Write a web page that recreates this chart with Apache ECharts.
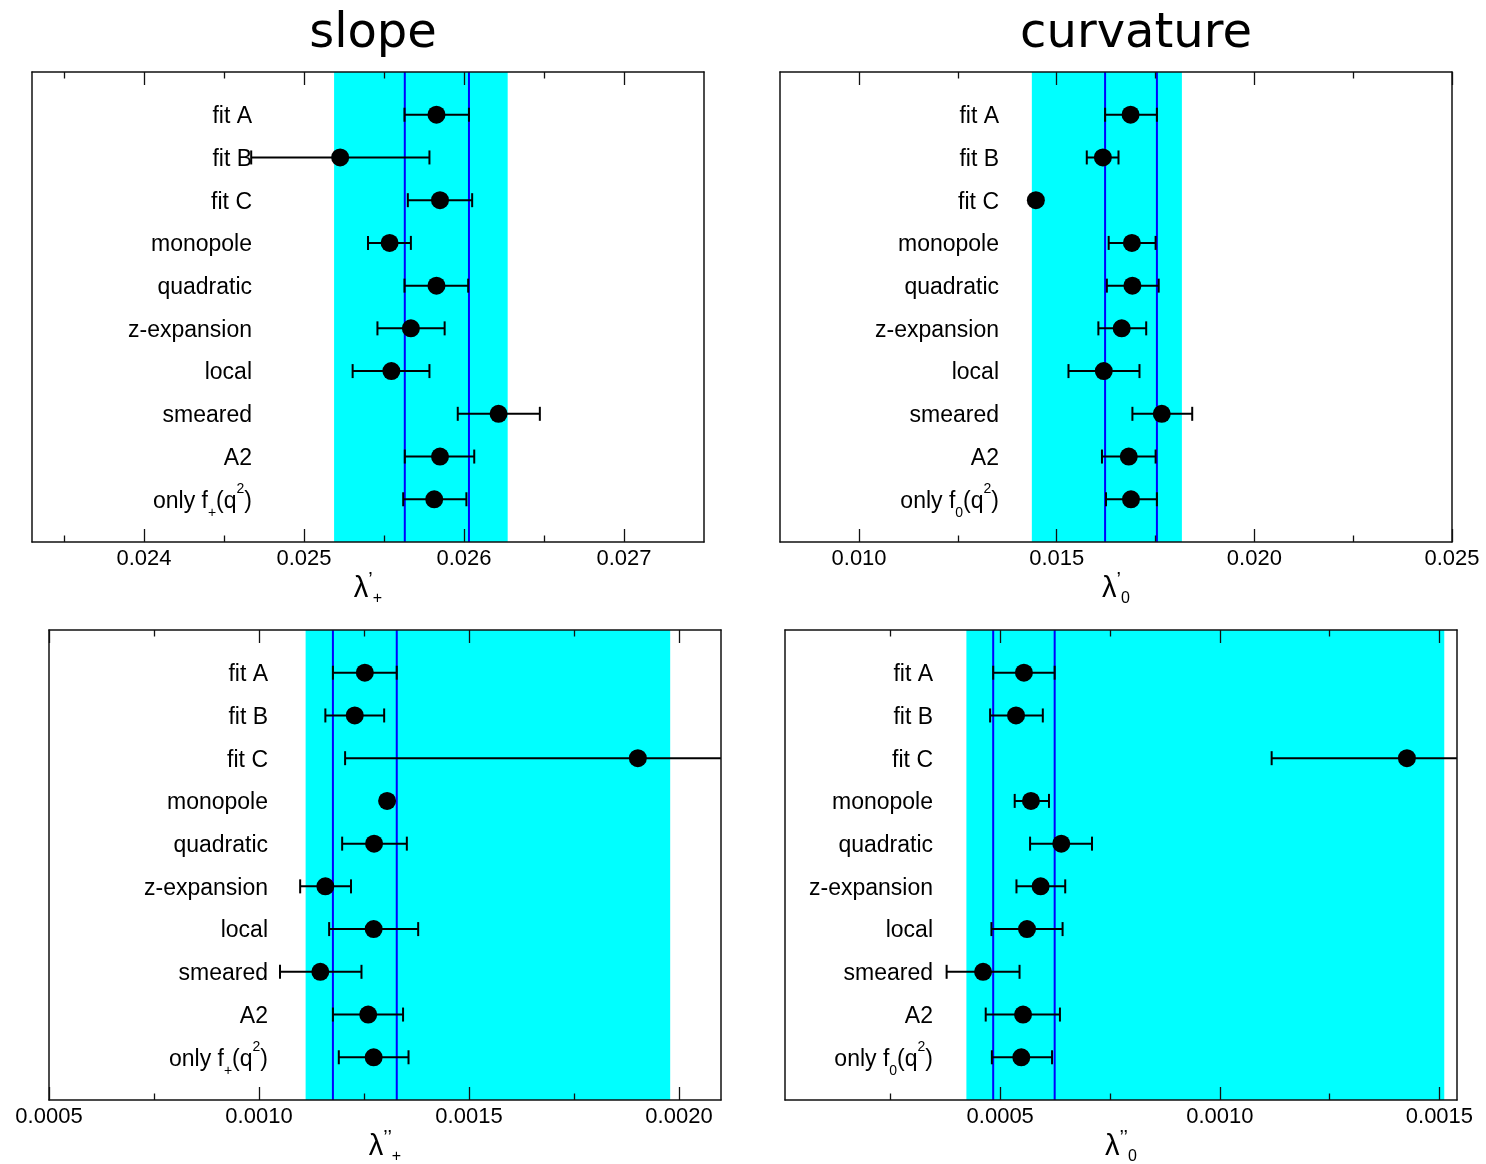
<!DOCTYPE html>
<html>
<head>
<meta charset="utf-8">
<script src="https://cdn.jsdelivr.net/npm/echarts@6/dist/echarts.min.js"></script>
<style>
  html, body { margin: 0; padding: 0; background: #fff; }
  #chart { width: 1486px; height: 1164px; }
</style>
</head>
<body>
<div id="chart"></div>
<script>
// Row names, top to bottom (the last row differs between the f+ and f0 panels)
const rowNames = ['fit A', 'fit B', 'fit C', 'monopole', 'quadratic', 'z-expansion', 'local', 'smeared', 'A2'];
const lastRowPlus = 'only f{sub|+}(q{sup|2})';
const lastRowZero = 'only f{sub|0}(q{sup|2})';

// slope of f+ : λ'_+
const slopePlusValue = [0.025828, 0.025226, 0.02585, 0.025535, 0.025828, 0.025668, 0.025546, 0.026216, 0.02585, 0.025814];
const slopePlusLow   = [0.025628, 0.02467, 0.025649, 0.0254, 0.025628, 0.025459, 0.025304, 0.025961, 0.02563, 0.02562];
const slopePlusHigh  = [0.026031, 0.025784, 0.026051, 0.025668, 0.026026, 0.025879, 0.025784, 0.026474, 0.026064, 0.026015];
const slopePlusBand  = [0.025188, 0.026273];
const slopePlusLines = [0.02563, 0.026031];
const slopePlusRange = [0.0233, 0.0275];
const slopePlusTicks = [0.024, 0.025, 0.026, 0.027];
const slopePlusMinor = [0.0235, 0.0245, 0.0255, 0.0265];

// slope of f0 : λ'_0
const slopeZeroValue = [0.016869, 0.016168, 0.014473, 0.016902, 0.016915, 0.016644, 0.016191, 0.017658, 0.016823, 0.016879];
const slopeZeroLow   = [0.016224, 0.015761, null, 0.016315, 0.016269, 0.016054, 0.015298, 0.016915, 0.016145, 0.016247];
const slopeZeroHigh  = [0.017535, 0.016563, null, 0.017502, 0.01758, 0.017264, 0.017094, 0.018428, 0.017502, 0.017535];
const slopeZeroBand  = [0.014371, 0.018167];
const slopeZeroLines = [0.016224, 0.017535];
const slopeZeroRange = [0.008, 0.025];
const slopeZeroTicks = [0.010, 0.015, 0.020, 0.025];
const slopeZeroMinor = [0.0125, 0.0175, 0.0225];

// curvature of f+ : λ''_+
const curvPlusValue = [0.001252, 0.001228, 0.001902, 0.001305, 0.001274, 0.001158, 0.001273, 0.001146, 0.00126, 0.001273];
const curvPlusLow   = [0.001176, 0.001158, 0.001205, null, 0.001198, 0.001098, 0.001167, 0.00105, 0.001176, 0.00119];
const curvPlusHigh  = [0.001328, 0.001298, 0.0026, null, 0.001352, 0.001219, 0.001379, 0.001244, 0.001343, 0.001356];
const curvPlusBand  = [0.001111, 0.001979];
const curvPlusLines = [0.001176, 0.001328];
const curvPlusRange = [0.0005, 0.0021];
const curvPlusTicks = [0.0005, 0.0010, 0.0015, 0.0020];
const curvPlusMinor = [0.00075, 0.00125, 0.00175];

// curvature of f0 : λ''_0
const curvZeroValue = [0.000554, 0.000536, 0.001426, 0.00057, 0.000639, 0.000592, 0.000561, 0.000461, 0.000552, 0.000548];
const curvZeroLow   = [0.000484, 0.000477, 0.001118, 0.000533, 0.000568, 0.000537, 0.00048, 0.000378, 0.000467, 0.000481];
const curvZeroHigh  = [0.000624, 0.000597, 0.001734, 0.000611, 0.000709, 0.000648, 0.000642, 0.000544, 0.000636, 0.000618];
const curvZeroBand  = [0.000423, 0.001511];
const curvZeroLines = [0.000484, 0.000624];
const curvZeroRange = [0.00001, 0.00154];
const curvZeroTicks = [0.0005, 0.0010, 0.0015];
const curvZeroMinor = [0.00025, 0.00075, 0.00125];

const FONT = 'Liberation Sans, Arial, Helvetica, sans-serif';
const ROWS = 10;

const panels = [
  { box: { left: 32, top: 72 }, labelInset: 220, digits: 3,
    names: rowNames.concat([lastRowPlus]), axisName: '{l|λ}{p|’}{s|+}',
    value: slopePlusValue, low: slopePlusLow, high: slopePlusHigh,
    band: slopePlusBand, lines: slopePlusLines, range: slopePlusRange,
    ticks: slopePlusTicks, minor: slopePlusMinor },
  { box: { left: 780, top: 72 }, labelInset: 219, digits: 3,
    names: rowNames.concat([lastRowZero]), axisName: '{l|λ}{p|’}{s|0}',
    value: slopeZeroValue, low: slopeZeroLow, high: slopeZeroHigh,
    band: slopeZeroBand, lines: slopeZeroLines, range: slopeZeroRange,
    ticks: slopeZeroTicks, minor: slopeZeroMinor },
  { box: { left: 49, top: 630 }, labelInset: 219, digits: 4,
    names: rowNames.concat([lastRowPlus]), axisName: '{l|λ}{p|’’}{s|+}',
    value: curvPlusValue, low: curvPlusLow, high: curvPlusHigh,
    band: curvPlusBand, lines: curvPlusLines, range: curvPlusRange,
    ticks: curvPlusTicks, minor: curvPlusMinor },
  { box: { left: 785, top: 630 }, labelInset: 148, digits: 4,
    names: rowNames.concat([lastRowZero]), axisName: '{l|λ}{p|’’}{s|0}',
    value: curvZeroValue, low: curvZeroLow, high: curvZeroHigh,
    band: curvZeroBand, lines: curvZeroLines, range: curvZeroRange,
    ticks: curvZeroTicks, minor: curvZeroMinor }
];

// Shaded band across the full height of the frame
function bandItem(params, api) {
  const a = api.coord([api.value(0), 0]);
  const b = api.coord([api.value(1), ROWS + 1]);
  return {
    type: 'rect',
    shape: { x: a[0], y: Math.min(a[1], b[1]), width: b[0] - a[0], height: Math.abs(b[1] - a[1]) },
    style: { fill: '#00ffff' }
  };
}

// Full-height vertical reference line
function lineItem(params, api) {
  const a = api.coord([api.value(0), 0]);
  const b = api.coord([api.value(0), ROWS + 1]);
  return {
    type: 'line',
    shape: { x1: a[0], y1: a[1], x2: b[0], y2: b[1] },
    style: { stroke: '#0000ff', lineWidth: 2 }
  };
}

// Horizontal error bar with end caps
function errorItem(params, api) {
  const row = api.value(0);
  const a = api.coord([api.value(1), row]);
  const b = api.coord([api.value(2), row]);
  const h = 7;
  const st = { stroke: '#000', lineWidth: 2 };
  return {
    type: 'group',
    children: [
      { type: 'line', shape: { x1: a[0], y1: a[1], x2: b[0], y2: b[1] }, style: st },
      { type: 'line', shape: { x1: a[0], y1: a[1] - h, x2: a[0], y2: a[1] + h }, style: st },
      { type: 'line', shape: { x1: b[0], y1: b[1] - h, x2: b[0], y2: b[1] + h }, style: st }
    ]
  };
}

const grid = [], xAxis = [], yAxis = [], series = [];
const axisLineStyle = { color: '#111', width: 1.5 };

panels.forEach((p, i) => {
  grid.push({ left: p.box.left, top: p.box.top, width: 672, height: 470,
              containLabel: false, outerBoundsMode: 'none' });
  const base = {
    type: 'value', gridIndex: i, min: p.range[0], max: p.range[1],
    splitLine: { show: false }, z: 10
  };
  const fmt = v => v.toFixed(p.digits);
  // bottom: frame line, labels and long ticks
  xAxis.push(Object.assign({}, base, {
    position: 'bottom',
    axisLine: { show: true, onZero: false, lineStyle: axisLineStyle },
    axisTick: { show: true, inside: true, length: 13, customValues: p.ticks, lineStyle: { color: '#111', width: 1.3 } },
    axisLabel: { show: true, customValues: p.ticks, formatter: fmt, margin: 6,
                 fontFamily: FONT, fontSize: 22, color: '#000', showMinLabel: true, showMaxLabel: true },
    name: p.axisName, nameLocation: 'middle', nameGap: 26,
    nameTextStyle: {
      fontFamily: FONT, color: '#000', lineHeight: 36,
      rich: {
        l: { fontFamily: FONT, fontSize: 29, color: '#000', lineHeight: 36 },
        p: { fontFamily: FONT, fontSize: 20, color: '#000', lineHeight: 20, verticalAlign: 'top' },
        s: { fontFamily: FONT, fontSize: 16, color: '#000', lineHeight: 16, verticalAlign: 'bottom' }
      }
    }
  }));
  // bottom: short ticks
  xAxis.push(Object.assign({}, base, {
    position: 'bottom',
    axisLine: { show: false, onZero: false },
    axisTick: { show: true, inside: true, length: 6.5, customValues: p.minor, lineStyle: { color: '#111', width: 1.3 } },
    axisLabel: { show: false }
  }));
  // top: frame line and long ticks
  xAxis.push(Object.assign({}, base, {
    position: 'top',
    axisLine: { show: true, onZero: false, lineStyle: axisLineStyle },
    axisTick: { show: true, inside: true, length: 13, customValues: p.ticks, lineStyle: { color: '#111', width: 1.3 } },
    axisLabel: { show: false }
  }));
  // top: short ticks
  xAxis.push(Object.assign({}, base, {
    position: 'top',
    axisLine: { show: false, onZero: false },
    axisTick: { show: true, inside: true, length: 6.5, customValues: p.minor, lineStyle: { color: '#111', width: 1.3 } },
    axisLabel: { show: false }
  }));

  const rowIdx = p.names.map((_, k) => k + 1);
  // left: frame line and row names drawn inside the frame
  yAxis.push({
    type: 'value', gridIndex: i, min: 0, max: ROWS + 1, inverse: true, position: 'left', z: 10,
    splitLine: { show: false },
    axisLine: { show: true, onZero: false, lineStyle: axisLineStyle },
    axisTick: { show: false },
    axisLabel: {
      show: true, customValues: rowIdx, margin: -p.labelInset, align: 'right',
      formatter: v => p.names[Math.round(v) - 1] || '',
      fontFamily: FONT, fontSize: 23, color: '#000', lineHeight: 38, padding: [4, 0, 0, 0],
      rich: {
        sub: { fontFamily: FONT, fontSize: 14, color: '#000', lineHeight: 14, verticalAlign: 'bottom' },
        sup: { fontFamily: FONT, fontSize: 14, color: '#000', lineHeight: 14, verticalAlign: 'top' }
      }
    }
  });
  // right: frame line only
  yAxis.push({
    type: 'value', gridIndex: i, min: 0, max: ROWS + 1, inverse: true, position: 'right', z: 10,
    splitLine: { show: false },
    axisLine: { show: true, onZero: false, lineStyle: axisLineStyle },
    axisTick: { show: false }, axisLabel: { show: false }
  });

  const xi = 4 * i, yi = 2 * i;
  series.push({
    type: 'custom', xAxisIndex: xi, yAxisIndex: yi, z: 1, silent: true, clip: true,
    data: [[p.band[0], p.band[1]]], encode: { x: [0, 1] }, renderItem: bandItem
  });
  series.push({
    type: 'custom', xAxisIndex: xi, yAxisIndex: yi, z: 2, silent: true, clip: true,
    data: p.lines.map(v => [v]), encode: { x: 0 }, renderItem: lineItem
  });
  const errData = [];
  p.value.forEach((v, k) => {
    if (p.low[k] != null && p.high[k] != null) errData.push([k + 1, p.low[k], p.high[k]]);
  });
  series.push({
    type: 'custom', xAxisIndex: xi, yAxisIndex: yi, z: 3, silent: true, clip: true,
    data: errData, encode: { x: [1, 2], y: 0 }, renderItem: errorItem
  });
  series.push({
    type: 'scatter', xAxisIndex: xi, yAxisIndex: yi, z: 4, silent: true,
    symbol: 'circle', symbolSize: 18, itemStyle: { color: '#000', opacity: 1 },
    data: p.value.map((v, k) => [v, k + 1])
  });
});

const chart = echarts.init(document.getElementById('chart'), null, { renderer: 'canvas' });
chart.setOption({
  animation: false,
  backgroundColor: '#fff',
  title: [
    { text: 'slope', left: 368, top: 6, textAlign: 'center',
      textStyle: { fontFamily: 'DejaVu Sans', fontSize: 48, fontWeight: 'normal', color: '#000' } },
    { text: 'curvature', left: 1131, top: 6, textAlign: 'center',
      textStyle: { fontFamily: 'DejaVu Sans', fontSize: 48, fontWeight: 'normal', color: '#000' } }
  ],
  grid, xAxis, yAxis, series
});
</script>
</body>
</html>
